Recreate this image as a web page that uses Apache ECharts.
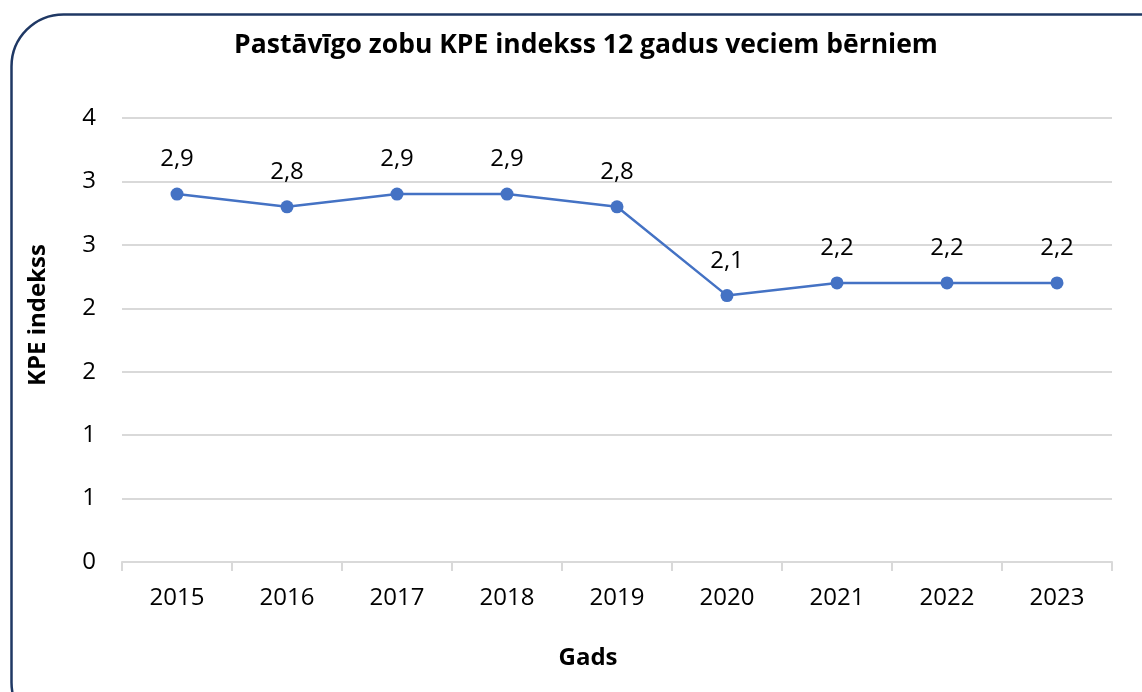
<!DOCTYPE html>
<html>
<head>
<meta charset="utf-8">
<script src="https://cdn.jsdelivr.net/npm/echarts@6/dist/echarts.min.js"></script>
<style>
html,body{margin:0;padding:0;background:#fff;}
#main{width:1142px;height:692px;}
</style>
</head>
<body>
<div id="main"></div>
<script>
// dati
var years = ['2015', '2016', '2017', '2018', '2019', '2020', '2021', '2022', '2023'];
var kpeValues = [2.9, 2.8, 2.9, 2.9, 2.8, 2.1, 2.2, 2.2, 2.2];
var yMin = 0, yMax = 3.5, yStep = 0.5;

var font = '"Open Sans", sans-serif';
var chart = echarts.init(document.getElementById('main'));
chart.setOption({
    animation: false,
    textStyle: { fontFamily: font },
    graphic: [{
        type: 'rect',
        left: 9, top: 12,
        shape: { width: 1200, height: 720, r: 52 },
        style: { fill: 'none', stroke: '#1F3864', lineWidth: 2.5 },
        silent: true, z: -1
    }, {
        // virsraksts un ass nosaukumi
        type: 'text',
        x: 586, y: 45,
        style: {
            text: 'Pastāvīgo zobu KPE indekss 12 gadus veciem bērniem',
            align: 'center', verticalAlign: 'middle',
            font: 'bold 26.5px "Open Sans", sans-serif', fill: '#000'
        }
    }, {
        type: 'text',
        x: 588, y: 658,
        style: {
            text: 'Gads', align: 'center', verticalAlign: 'middle',
            font: 'bold 24px "Open Sans", sans-serif', fill: '#000'
        }
    }, {
        type: 'text',
        x: 38, y: 315,
        rotation: Math.PI / 2,
        style: {
            text: 'KPE indekss', align: 'center', verticalAlign: 'middle',
            font: 'bold 24px "Open Sans", sans-serif', fill: '#000'
        }
    }],
    grid: { left: 122, right: 30, top: 118, bottom: 130 },
    xAxis: {
        type: 'category',
        data: years,
        boundaryGap: true,
        axisLine: { lineStyle: { color: '#d9d9d9', width: 2 } },
        axisTick: { show: true, length: 9, lineStyle: { color: '#d9d9d9', width: 2 } },
        axisLabel: { fontSize: 24, color: '#000', margin: 24 }
    },
    yAxis: {
        type: 'value',
        min: yMin, max: yMax, interval: yStep,
        axisLine: { show: false },
        axisTick: { show: false },
        splitLine: { lineStyle: { color: '#d9d9d9', width: 2 } },
        axisLabel: {
            fontSize: 24, color: '#000', margin: 26,
            formatter: function (v) { return String(Math.round(v)); }
        }
    },
    series: [{
        type: 'line',
        data: kpeValues,
        symbol: 'circle',
        symbolSize: 13,
        itemStyle: { color: '#4472C4' },
        lineStyle: { color: '#4472C4', width: 2.5 },
        label: {
            show: true, position: 'top', distance: 16,
            fontSize: 24, color: '#000',
            formatter: function (p) { return p.value.toFixed(1).replace('.', ','); }
        }
    }]
});
</script>
</body>
</html>
